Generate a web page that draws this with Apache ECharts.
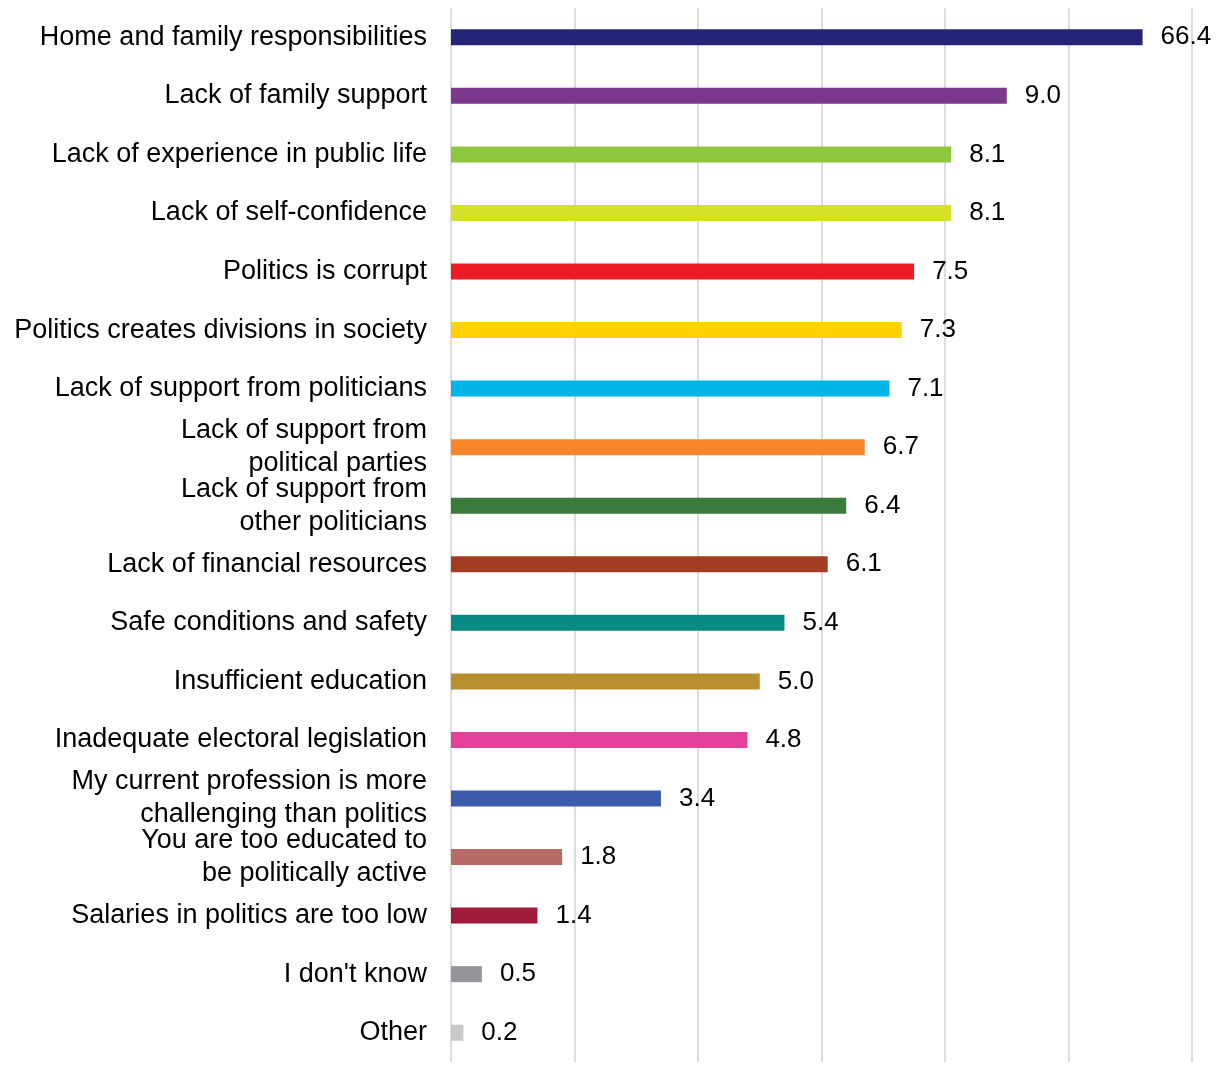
<!DOCTYPE html>
<html>
<head>
<meta charset="utf-8">
<script src="https://cdn.jsdelivr.net/npm/echarts@6/dist/echarts.min.js"></script>
<style>
html,body{margin:0;padding:0;background:#fff;}
#count_01{width:1217px;height:1066px;}
</style>
</head>
<body>
<div id="count_01"></div>
<script>
var categories = [
	'Home and family responsibilities',
	'Lack of family support',
	'Lack of experience in public life',
	'Lack of self-confidence',
	'Politics is corrupt',
	'Politics creates divisions in society',
	'Lack of support from politicians',
	'Lack of support from\npolitical parties',
	'Lack of support from\nother politicians',
	'Lack of financial resources',
	'Safe conditions and safety',
	'Insufficient education',
	'Inadequate electoral legislation',
	'My current profession is more\nchallenging than politics',
	'You are too educated to\nbe politically active',
	'Salaries in politics are too low',
	"I don't know",
	'Other'
];
var values = [66.4, 9.0, 8.1, 8.1, 7.5, 7.3, 7.1, 6.7, 6.4, 6.1, 5.4, 5.0, 4.8, 3.4, 1.8, 1.4, 0.5, 0.2];
var barColors = ['#262479','#7a378b','#8dc63f','#d4e02a','#ed1c24','#ffd200','#00b5ea','#f7862a','#3a7a3a',
	'#a33c23','#0a8a84','#b88e2f','#e4419a','#3b5bab','#b86a65','#9e1b3a','#939598','#c8c8ca'];
// the axis is broken: the big bar is cut at this length
var axisCap = 11.2;

var dom_01 = document.getElementById("count_01");
var myChart_01 = echarts.init(dom_01);
var seriesData = [];
for (var i = 0; i < values.length; i++) {
	seriesData.push({
		value: Math.min(values[i], axisCap),
		realValue: values[i],
		itemStyle: {color: barColors[i]}
	});
}
option_01 = {
	animation: false,
	grid: {
		top: 8,
		left: 451,
		right: 25,
		bottom: 4
	},
	xAxis: {
		type: 'value',
		min: 0,
		max: 12,
		interval: 2,
		axisLabel: {show: false},
		axisTick: {show: false},
		axisLine: {show: false},
		splitLine: {
			lineStyle: {color: '#dcdcdc', width: 2}
		}
	},
	yAxis: {
		type: 'category',
		inverse: true,
		data: categories,
		axisTick: {show: false},
		axisLine: {show: false},
		axisLabel: {
			margin: 24,
			fontSize: 27,
			lineHeight: 33,
			color: '#000',
			fontFamily: 'Liberation Sans, Arial, sans-serif'
		}
	},
	series: [{
		type: 'bar',
		barWidth: 16,
		data: seriesData,
		label: {
			show: true,
			position: 'right',
			distance: 18,
			fontSize: 26,
			color: '#000',
			fontFamily: 'Liberation Sans, Arial, sans-serif',
			formatter: function (p) {
				return p.data.realValue.toFixed(1);
			}
		}
	}]
};
if (option_01 && typeof option_01 === "object") {
	myChart_01.setOption(option_01, true);
}
</script>
</body>
</html>
